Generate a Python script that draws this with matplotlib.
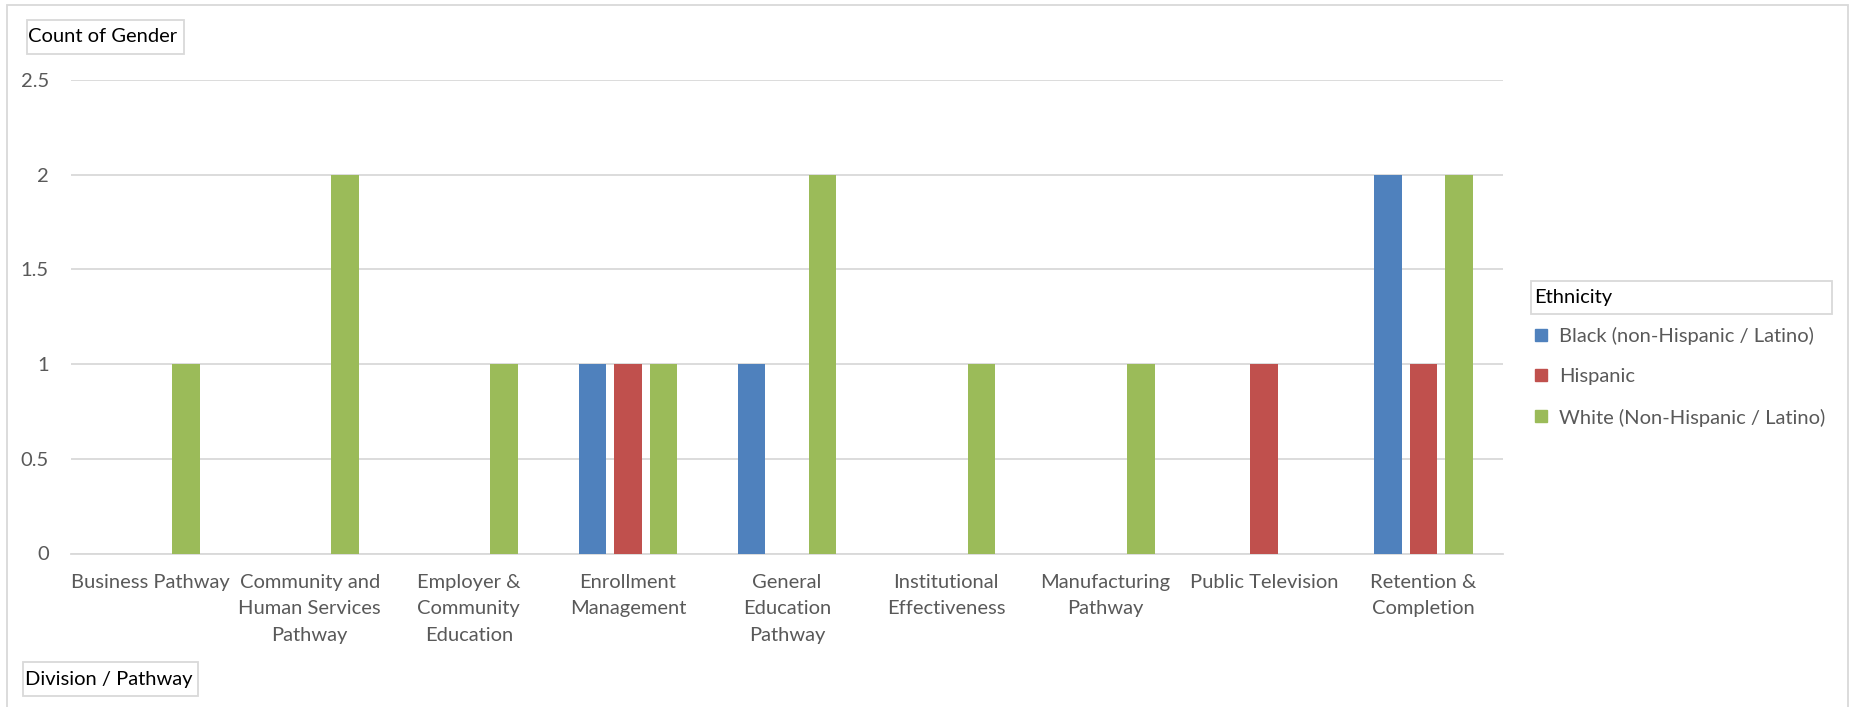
import numpy as np
import matplotlib.pyplot as plt
from matplotlib.lines import Line2D
from matplotlib.patches import Rectangle

plt.rcParams['font.family'] = ['Lato', 'DejaVu Sans']

categories = ["Business Pathway", "Community and\nHuman Services\nPathway",
              "Employer &\nCommunity\nEducation", "Enrollment\nManagement",
              "General\nEducation\nPathway", "Institutional\nEffectiveness",
              "Manufacturing\nPathway", "Public Television", "Retention &\nCompletion"]
series_names = ["Black (non-Hispanic / Latino)", "Hispanic", "White (Non-Hispanic / Latino)"]
black = [0, 0, 0, 1, 1, 0, 0, 0, 2]
hispanic = [0, 0, 0, 1, 0, 0, 0, 1, 1]
white = [1, 2, 1, 1, 2, 1, 1, 0, 2]
yticks = [0, 0.5, 1, 1.5, 2, 2.5]
ytick_labels = ["0", "0.5", "1", "1.5", "2", "2.5"]

colors = ["#4F81BD", "#C0504D", "#9BBB59"]
grid_c = "#D9D9D9"
label_c = "#595959"
fs = 14.5

W, H = 1855, 707
fig = plt.figure(figsize=(W / 100, H / 100), dpi=100)
ax = fig.add_axes([71 / W, (H - 553.5) / H, 1432 / W, 473.5 / H])

x = np.arange(len(categories))
bw = 0.174
step = 0.223
for i, (vals, c) in enumerate(zip([black, hispanic, white], colors)):
    ax.bar(x + (i - 1) * step, vals, width=bw, color=c, zorder=3)

ax.set_xlim(-0.5, len(categories) - 0.5)
ax.set_ylim(0, 2.5)
ax.set_yticks(yticks)
ax.set_yticklabels(ytick_labels)
ax.set_xticks(x)
ax.set_xticklabels(categories, linespacing=1.68)
ax.tick_params(axis='both', length=0, labelsize=fs, labelcolor=label_c)
ax.tick_params(axis='y', pad=16)
ax.tick_params(axis='x', pad=14.5)
ax.grid(axis='y', color=grid_c, linewidth=1.3, zorder=0)
for s in ['top', 'right', 'left']:
    ax.spines[s].set_visible(False)
ax.spines['bottom'].set_color(grid_c)
ax.spines['bottom'].set_linewidth(1.3)


def px_box(x0, y0, x1, y1):
    # rectangle given in pixel coords measured from the top-left corner
    fig.patches.append(Rectangle((x0 / W, 1 - y1 / H), (x1 - x0) / W, (y1 - y0) / H,
                                 transform=fig.transFigure, fill=False,
                                 edgecolor=grid_c, linewidth=1.3))


# chart border
fig.patches.append(Rectangle((7 / W, -0.05), (1848 - 7) / W, 1.05 - 5 / H,
                             transform=fig.transFigure, fill=False,
                             edgecolor=grid_c, linewidth=1.3))

px_box(26.5, 20, 183.5, 54)
fig.text(28 / W, 1 - 37 / H, "Count of Gender", fontsize=fs, color='black',
         va='center', ha='left')
px_box(22.7, 662.3, 197.7, 695.7)
fig.text(25 / W, 1 - 679 / H, "Division / Pathway", fontsize=fs, color='black',
         va='center', ha='left')

# legend
px_box(1531, 281, 1832, 314)
fig.text(1534 / W, 1 - 297.5 / H, "Ethnicity", fontsize=fs, color='black',
         va='center', ha='left')
handles = [Line2D([], [], marker='s', linestyle='none', markersize=9,
                  markerfacecolor=c, markeredgecolor=c) for c in colors]
fig.legend(handles, series_names, loc='upper left',
           bbox_to_anchor=(1533 / W, 1 - 327 / H), frameon=False,
           fontsize=fs, labelcolor=label_c, handlelength=0.8,
           handletextpad=0.5, labelspacing=1.15, borderpad=0, borderaxespad=0)

fig.savefig("out.png", dpi=100)
